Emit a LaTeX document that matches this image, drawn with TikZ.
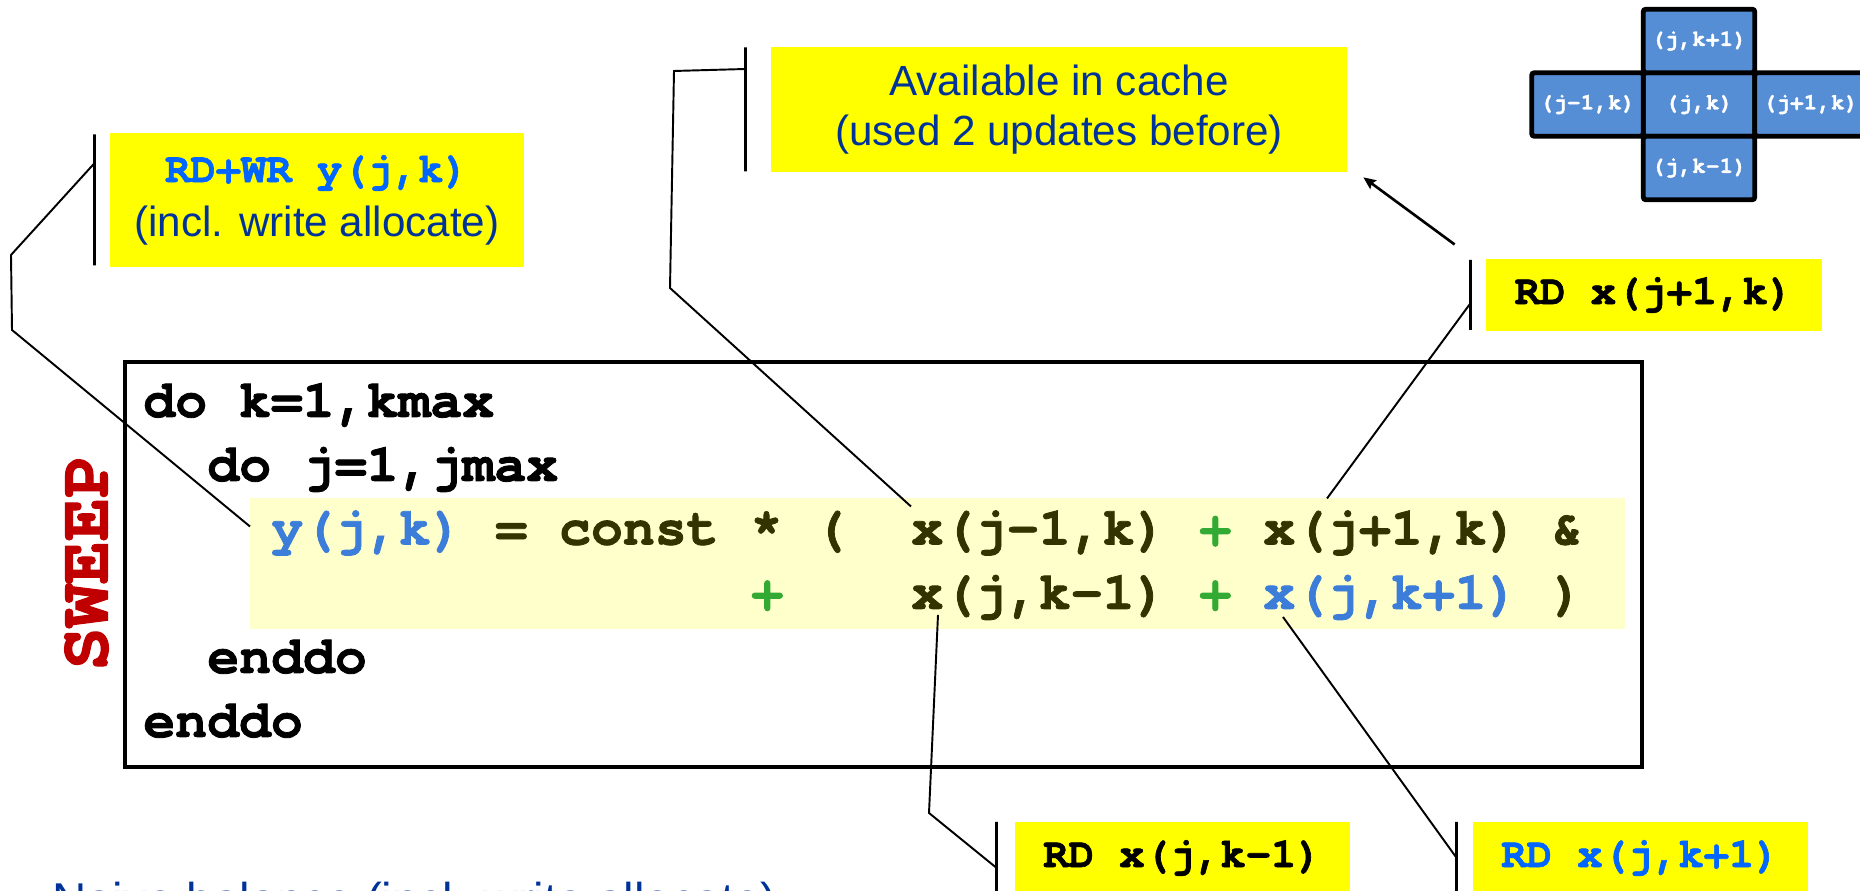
\documentclass[tikz,border=0pt]{standalone}
\usepackage{fontspec}
\setmainfont{Liberation Sans}
\setmonofont{texgyrecursor}[Extension=.otf, UprightFont=*-regular,
  BoldFont=*-bold, BoldFeatures={FakeBold=1.5}]
\usetikzlibrary{positioning,arrows.meta}

\definecolor{boxyellow}{HTML}{FFFF00}
\definecolor{hilite}{HTML}{FFFFCC}
\definecolor{navy}{HTML}{003399}
\definecolor{brightblue}{HTML}{0066FF}
\definecolor{codeblue}{HTML}{3B7DD8}
\definecolor{codegreen}{HTML}{33AA33}
\definecolor{codeolive}{HTML}{333300}
\definecolor{sweepred}{HTML}{C00000}
\definecolor{cellblue}{HTML}{558ED5}

\newcommand{\codefont}{\ttfamily\bfseries\fontsize{30.25}{36}\selectfont}

\begin{document}
\begin{tikzpicture}[
  lbl/.style={rectangle, fill=boxyellow, inner sep=0pt, align=center,
              font=\fontsize{24}{30}\selectfont},
  bar/.style={draw, line width=1.6pt, inner sep=0pt, outer sep=0pt,
              minimum width=0pt},
  cell/.style={draw=black, fill=cellblue, line width=2.8pt, rounded corners=1.5pt,
               minimum width=2.23cm, minimum height=1.27cm, inner sep=0pt,
               outer sep=0pt, text=white,
               font=\ttfamily\bfseries\fontsize{13}{14}\selectfont},
  code/.style={anchor=base west, inner sep=0pt, font=\codefont},
  con/.style={line width=1.1pt},
  arr/.style={-{Stealth[length=7pt, width=6pt, inset=1pt]}, line width=1.5pt}
]
  \useasboundingbox (0,0) rectangle (37.2,17.82);

  % stencil
  \node[cell] (c) at (33.98, 15.73) {(j,k)};
  \node[cell, above=0pt of c] (cn) {(j,k+1)};
  \node[cell, below=0pt of c] (cs) {(j,k-1)};
  \node[cell, left=0pt of c] (cw) {(j-1,k)};
  \node[cell, right=0pt of c] (ce) {(j+1,k)};

  % labels
  \node[lbl, minimum width=8.28cm, minimum height=2.68cm,
        font=\fontsize{24}{30.7}\selectfont] (wr) at (6.34, 13.82)
    {{\ttfamily\bfseries\color{brightblue}RD+WR y(j,k)}\\
     {\color{navy}(incl. write allocate)}};
  \node[bar, minimum height=2.62cm, left=0.3cm of wr] (wrbar) {};

  \node[lbl, minimum width=11.52cm, minimum height=2.5cm, text=navy,
        font=\fontsize{24}{28.5}\selectfont] (avail) at (21.18, 15.63)
    {Available in cache\\ (used 2 updates before)};
  \node[bar, minimum height=2.48cm, left=0.5cm of avail] (availbar) {};

  \node[lbl, minimum width=6.72cm, minimum height=1.44cm,
        font=\ttfamily\bfseries\fontsize{24}{30}\selectfont] (jp)
    at (33.08, 11.92) {RD x(j+1,k)};
  \node[bar, minimum height=1.40cm, left=0.3cm of jp] (jpbar) {};

  \node[lbl, minimum width=6.7cm, minimum height=1.44cm,
        font=\ttfamily\bfseries\fontsize{24}{30}\selectfont] (km)
    at (23.65, 0.66) {RD x(j,k-1)};
  \node[bar, minimum height=1.44cm, left=0.36cm of km] (kmbar) {};

  \node[lbl, minimum width=6.7cm, minimum height=1.44cm, text=brightblue,
        font=\ttfamily\bfseries\fontsize{24}{30}\selectfont] (kp)
    at (32.81, 0.66) {RD x(j,k+1)};
  \node[bar, minimum height=1.44cm, left=0.32cm of kp] (kpbar) {};

  % loop code
  \node[draw, line width=2.3pt, minimum width=30.34cm, minimum height=8.10cm,
        inner sep=0pt] (codebox) at (17.67, 6.53) {};
  \node[fill=hilite, minimum width=27.5cm, minimum height=2.62cm,
        inner sep=0pt] (hl) at (18.75, 6.55) {};

  \node[code] (l1) at (2.86, 9.48) {do k=1,kmax};
  \node[code] (l2) at (4.14, 8.20) {do j=1,jmax};
  \node[code, text=codeblue] (yjk) at (5.42, 6.93) {y(j,k)};
  \node[code, text=codeolive] (l3a) at (9.90, 6.93) {= const * (};
  \node[code, text=codeolive] (xjm) at (18.22, 6.93) {x(j-1,k)};
  \node[code, text=codegreen] (p1) at (23.98, 6.93) {+};
  \node[code, text=codeolive] (xjp) at (25.26, 6.93) {x(j+1,k)};
  \node[code, text=codeolive] (amp) at (31.02, 6.93) {\&};
  \node[code, text=codegreen] (p2) at (15.02, 5.64) {+};
  \node[code, text=codeolive] (xkm) at (18.22, 5.64) {x(j,k-1)};
  \node[code, text=codegreen] (p3) at (23.98, 5.64) {+};
  \node[code, text=codeblue] (xkp) at (25.26, 5.64) {x(j,k+1)};
  \node[code, text=codeolive] (cls) at (31.02, 5.64) {)};
  \node[code] (l5) at (4.14, 4.36) {enddo};
  \node[code] (l6) at (2.86, 3.08) {enddo};

  \node[rotate=90, text=sweepred, inner sep=0pt,
        font=\ttfamily\bfseries\fontsize{41}{45}\selectfont] (sweep)
    at (1.73, 6.57) {SWEEP};

  % connectors
  \draw[con] ([yshift=0.74cm]wrbar.center) -- (0.22, 12.72) -- (0.24, 11.22)
    -- ([xshift=-0.42cm, yshift=0.36cm]yjk.base west);
  \draw[con] ([yshift=0.81cm]availbar.center) -- (13.48, 16.40) -- (13.40, 12.06)
    -- ([yshift=0.76cm]xjm.base west);
  \draw[con] ([yshift=-0.16cm]jpbar.center)
    -- ([xshift=1.28cm, yshift=0.92cm]xjp.base west);
  \draw[con] ([xshift=0.54cm, yshift=-0.12cm]xkm.base west) -- (18.58, 1.56)
    -- ([yshift=-0.2cm]kmbar.center);
  \draw[con] ([xshift=0.40cm, yshift=-0.16cm]xkp.base west) -- (kpbar.center);
  \draw[arr] ([xshift=-0.32cm, yshift=0.31cm]jpbar.north)
    -- ([xshift=0.32cm, yshift=-0.10cm]avail.south east);

  \node[anchor=base west, inner sep=0pt, text=navy,
        font=\fontsize{27}{30}\selectfont] (naive) at (1.04, -0.52)
    {Naive balance (incl. write allocate)};
\end{tikzpicture}
\end{document}
